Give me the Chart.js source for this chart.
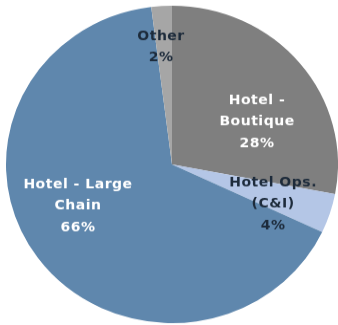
<!DOCTYPE html>
<html>
<head>
<meta charset="utf-8">
<script src="https://cdn.jsdelivr.net/npm/chart.js@4"></script>
<style>
  html, body { margin: 0; padding: 0; background: #fff; }
  #pie { display: block; }
</style>
</head>
<body>
<canvas id="pie" width="338" height="340" style="width:338px;height:325px"></canvas>
<script>
// Segmentos del mercado hotelero (porcentaje)
const categories = ['Hotel - Boutique', 'Hotel Ops. (C&I)', 'Hotel - Large Chain', 'Other'];
const values = [28, 4, 66, 2];
// Cómo se parte cada etiqueta en líneas
const labelLines = [['Hotel -', 'Boutique'], ['Hotel Ops.', '(C&I)'], ['Hotel - Large', 'Chain'], ['Other']];

const colors = ['#7f7f7f', '#b4c6e6', '#5f87ad', '#a6a6a6'];
const textColors = ['#ffffff', '#1d2b3b', '#ffffff', '#1d2b3b'];
// posición de cada etiqueta: fracción del radio y giro (grados) respecto al centro del sector
const labelRadius = [0.578, 0.658, 0.624, 0.743];
const labelTurn = [12, 4.3, 11.2, -1.5];

// Plugin propio para escribir las etiquetas dentro de los sectores
const sliceLabels = {
  id: 'sliceLabels',
  afterDatasetsDraw(chart) {
    const ctx = chart.ctx;
    const meta = chart.getDatasetMeta(0);
    ctx.save();
    ctx.font = 'bold 14px "DejaVu Sans", sans-serif';
    ctx.letterSpacing = '0.5px';
    ctx.textAlign = 'center';
    ctx.textBaseline = 'middle';
    meta.data.forEach((arc, i) => {
      const a = (arc.startAngle + arc.endAngle) / 2 + labelTurn[i] * Math.PI / 180;
      const r = arc.outerRadius * labelRadius[i];
      const x = arc.x + Math.cos(a) * r;
      const y = arc.y + Math.sin(a) * r;
      const lines = labelLines[i].concat([values[i] + '%']);
      const lh = 22.5;
      const top = y - (lines.length - 1) * lh / 2;
      ctx.fillStyle = textColors[i];
      lines.forEach((t, j) => ctx.fillText(t, x, top + j * lh));
    });
    ctx.restore();
  }
};

new Chart(document.getElementById('pie'), {
  type: 'pie',
  data: {
    labels: categories,
    datasets: [{
      data: values,
      backgroundColor: colors,
      borderWidth: 0,
    }],
  },
  options: {
    responsive: false,
    animation: false,
    events: [],
    layout: { padding: { left: 6, right: 0, top: 6, bottom: 2 } },
    plugins: {
      legend: { display: false },
      tooltip: { enabled: false },
    },
  },
  plugins: [sliceLabels],
});
</script>
</body>
</html>
